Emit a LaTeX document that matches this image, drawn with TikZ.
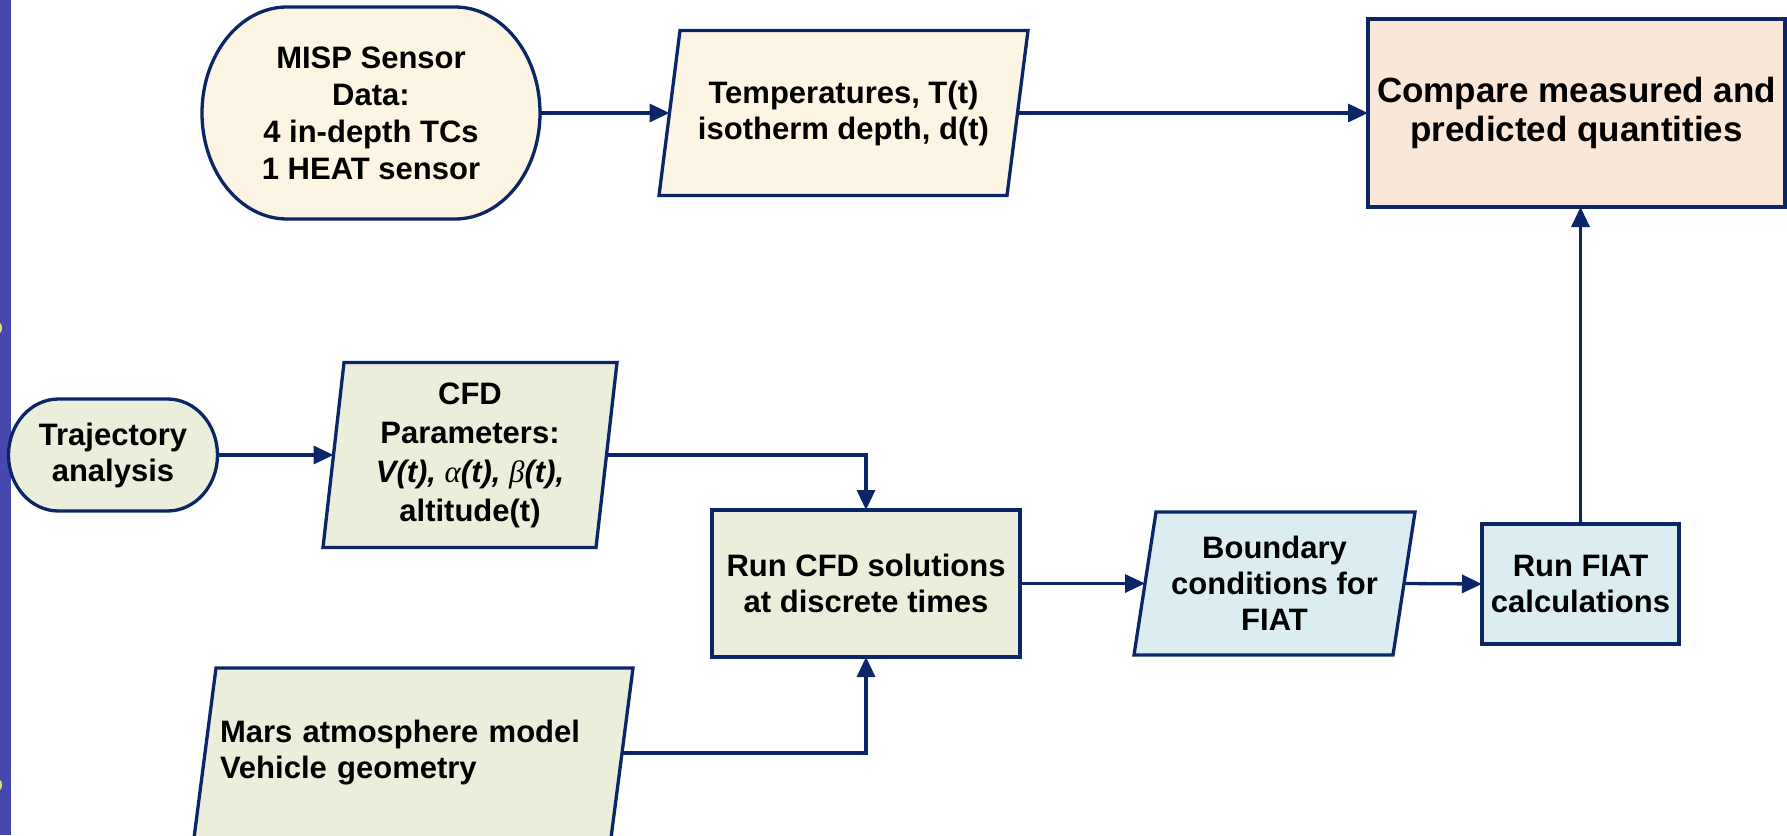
\documentclass[tikz,border=0pt]{standalone}
\usepackage{fontspec}
\setmainfont{Liberation Sans}
\newfontfamily\greekf{Liberation Serif}
\usetikzlibrary{arrows.meta,calc}
\pgfdeclarelayer{background}
\pgfsetlayers{background,main}
\definecolor{navy}{RGB}{10,38,102}
\definecolor{cream}{RGB}{253,245,228}
\definecolor{peach}{RGB}{251,231,216}
\definecolor{sage}{RGB}{234,238,218}
\definecolor{ice}{RGB}{220,237,242}
\definecolor{stripcol}{RGB}{70,72,172}
\definecolor{dotcol}{RGB}{225,222,120}
\tikzset{
  txt/.style={font=\bfseries\fontsize{31}{36}\selectfont, align=center, inner sep=0pt, outer sep=0pt, rectangle},
  boxed/.style={txt, draw=navy, line width=3.3pt},
  ghost/.style={txt},
  outline/.style={draw=navy, line width=3.3pt, line join=miter},
  conn/.style={draw=navy, line width=3.3pt, -{Triangle[length=20pt,width=18pt]}},
}
\newcommand\paraback[3]{%
  \draw[outline, fill=#2] ($(#1.north west)+(#3,0)$) -- ($(#1.north east)+(#3,0)$)
    -- ($(#1.south east)+(-#3,0)$) -- ($(#1.south west)+(-#3,0)$) -- cycle;}
\newcommand\stadback[4]{%
  \draw[outline, fill=#2] ($(#1.north west)+(#3,0)$) -- ($(#1.north east)+(-#3,0)$)
    arc[start angle=90, end angle=-90, x radius=#3pt, y radius=#4pt]
    -- ($(#1.south west)+(#3,0)$)
    arc[start angle=270, end angle=90, x radius=#3pt, y radius=#4pt] -- cycle;}
\begin{document}
\begin{tikzpicture}[x=1pt,y=-1pt]
\useasboundingbox (0,0) rectangle (1787,835);

% nodes
\node[ghost, minimum width=338pt, minimum height=212pt,
      font=\bfseries\fontsize{31}{37}\selectfont] (misp) at (371,113)
  {MISP Sensor\\Data:\\4 in-depth TCs\\1 HEAT sensor};
\node[ghost, minimum width=348pt, minimum height=165pt] (temp) at (843.5,113)
  {Temperatures, T(t)\\isotherm depth, d(t)};
\node[boxed, fill=peach, minimum width=417pt, minimum height=188pt,
      font=\bfseries\fontsize{35}{39}\selectfont] (comp) at (1576.5,113)
  {Compare measured and\\predicted quantities};
\node[ghost, minimum width=209pt, minimum height=112pt] (traj) at (113,455)
  {Trajectory\\analysis};
\node[ghost, minimum width=273pt, minimum height=185pt,
      font=\bfseries\fontsize{31}{39}\selectfont] (cfdp) at (470,455)
  {CFD\\Parameters:\\{\itshape V(t), }{\greekf\itshape\mdseries α}{\itshape (t), }{\greekf\itshape\mdseries β}{\itshape (t),}\\altitude(t)};
\node[boxed, fill=sage, minimum width=308pt, minimum height=147pt] (runcfd) at (866,583.5)
  {Run CFD solutions\\at discrete times};
\node[ghost, minimum width=259pt, minimum height=143pt] (bound) at (1274.5,583.5)
  {Boundary\\conditions for\\FIAT};
\node[boxed, fill=ice, minimum width=197pt, minimum height=120pt] (fiat) at (1580.5,584)
  {Run FIAT\\calculations};
\node[ghost, align=left, text width=387pt, inner xsep=15pt, minimum width=417pt, minimum height=170pt] (mars) at (413.5,753)
  {Mars atmosphere model\\Vehicle geometry};

% shapes behind the texts
\begin{pgfonlayer}{background}
  \fill[stripcol] (0,0) rectangle (11,835);
  \fill[dotcol] (0,328) ellipse[x radius=2pt, y radius=5pt];
  \fill[dotcol] (0,785) ellipse[x radius=2pt, y radius=5pt];
  \stadback{misp}{cream}{85}{106}
  \paraback{temp}{cream}{10.5}
  \stadback{traj}{sage}{50}{56}
  \paraback{cfdp}{sage}{10.5}
  \paraback{bound}{ice}{11}
  \paraback{mars}{sage}{11}
\end{pgfonlayer}

% connectors
\draw[conn] (misp.east) -- (temp.west);
\draw[conn] (temp.east) -- (comp.west);
\draw[conn] (traj.east) -- (cfdp.west);
\draw[conn] (cfdp.east) -| (runcfd.north);
\draw[conn] (mars.east) -| (runcfd.south);
\draw[conn] (runcfd.east) -- (bound.west);
\draw[conn] (bound.east) -- (fiat.west);
\draw[conn] (fiat.north) -- (fiat.north |- comp.south);
\end{tikzpicture}
\end{document}
